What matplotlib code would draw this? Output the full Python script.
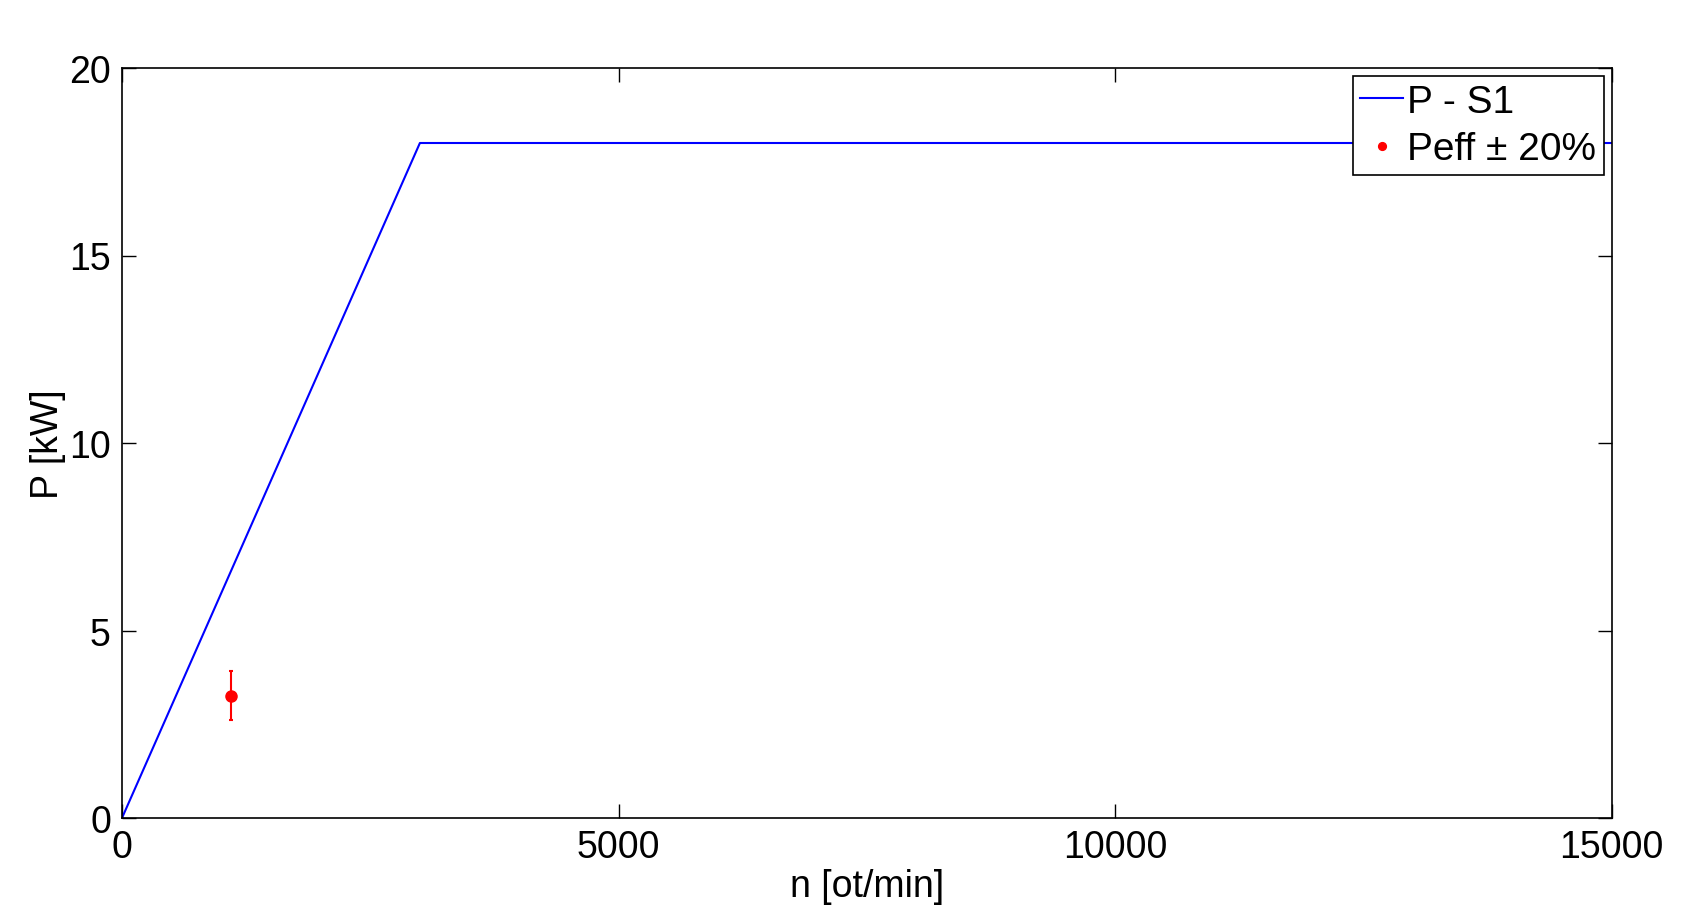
import numpy as np
import matplotlib.pyplot as plt

plt.rcParams['font.family'] = ['Liberation Sans', 'DejaVu Sans']

# Charakteristika P - S1
n_s1 = [0, 3000, 15000]
p_s1 = [0, 18, 18]

# Namerany bod
n_eff = [1100]
p_eff = [3.26]
p_err = [0.2 * v for v in p_eff]

fig = plt.figure(figsize=(16.96, 9.2), dpi=100)
ax = fig.add_axes([122 / 1696, 1 - 819 / 920, 1489.5 / 1696, 750 / 920])

ax.plot(n_s1, p_s1, color='#0000ff', linewidth=1.5, label='P - S1')
ax.errorbar(n_eff, p_eff, yerr=p_err, fmt='none', ecolor='#ff0000',
            elinewidth=1.5, capsize=1.5, capthick=1.5)
ax.plot(n_eff, p_eff, 'o', color='#ff0000', markersize=8, label='Peff ± 20%')

ax.set_xlim(0, 15000)
ax.set_ylim(0, 20)
ax.set_xticks([0, 5000, 10000, 15000])
ax.set_yticks([0, 5, 10, 15, 20])
ax.tick_params(direction='in', length=10, width=1, top=True, right=True,
               labelsize=27, pad=8)
for s in ax.spines.values():
    s.set_linewidth(1.2)

ax.set_xlabel('n [ot/min]', fontsize=27, labelpad=2)
ax.set_ylabel('P [kW]', fontsize=27, labelpad=2)

leg = ax.legend(loc='upper right', fontsize=28, frameon=True, fancybox=False,
                edgecolor='black', framealpha=1, handlelength=1.1,
                handletextpad=0.1, borderpad=0.2, labelspacing=0.3,
                borderaxespad=0.2, markerscale=0.7)
leg.get_frame().set_linewidth(1.2)

fig.savefig('out.png', dpi=100)
